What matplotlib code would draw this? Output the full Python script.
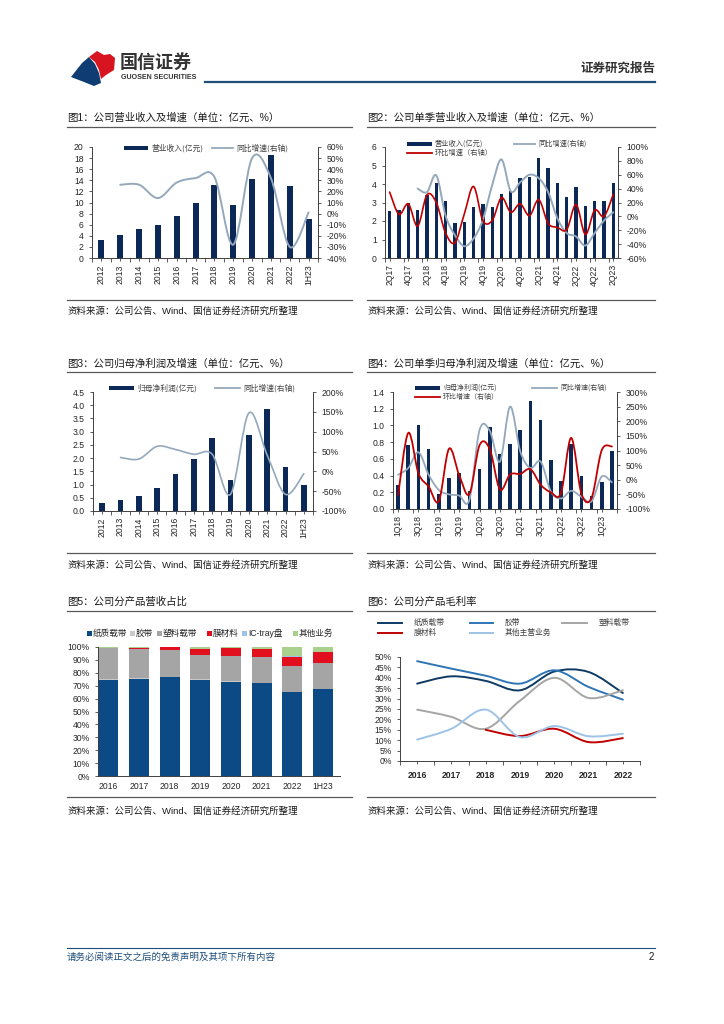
import numpy as np
import matplotlib.pyplot as plt
from matplotlib.path import Path
from matplotlib.patches import PathPatch, Polygon, Rectangle
from matplotlib.ticker import FuncFormatter

plt.rcParams['font.family'] = ['Liberation Sans', 'Noto Sans CJK SC', 'DejaVu Sans']
plt.rcParams['axes.unicode_minus'] = False

# 图1 年度营收
years1 = ['2012', '2013', '2014', '2015', '2016', '2017', '2018', '2019', '2020', '2021', '2022', '1H23']
rev1 = [3.2, 4.1, 5.2, 5.9, 7.5, 10.0, 13.1, 9.5, 14.2, 18.6, 13.0, 7.1]
rev1_yoy = [np.nan, 26, 26, 14, 28, 32, 33, -28, 50, 32, -30, 1]

# 图2 单季营收
q2 = ['2Q17', '3Q17', '4Q17', '1Q18', '2Q18', '3Q18', '4Q18', '1Q19', '2Q19', '3Q19', '4Q19',
      '1Q20', '2Q20', '3Q20', '4Q20', '1Q21', '2Q21', '3Q21', '4Q21', '1Q22', '2Q22', '3Q22',
      '4Q22', '1Q23', '2Q23']
rev2 = [2.52, 2.58, 2.99, 2.58, 3.39, 4.04, 3.08, 1.89, 1.95, 2.76, 2.9, 2.76, 3.48, 3.62,
        4.3, 4.36, 5.4, 4.86, 4.04, 3.28, 3.84, 2.83, 3.08, 3.08, 4.07]
rev2_yoy = [np.nan, np.nan, np.nan, 40, 35, 59, 1, -27, -43, -32, -5, 45, 82, 36, 49, 60, 55,
            35, -3, -24, -29, -42, -24, -6, 6]
rev2_qoq = [35, 3, 18, -14, 31, 20, -24, -38, 3, 43, -6, -6, 27, 6, 18, 1, 24, -10, -16, -19,
            17, -26, 9, 0, 32]

# 图3 年度归母净利润
years3 = years1
np3 = [0.3, 0.42, 0.57, 0.88, 1.4, 1.97, 2.75, 1.17, 2.88, 3.87, 1.66, 1.0]
np3_yoy = [np.nan, 35, 31, 63, 55, 43, 43, -58, 147, 41, -58, -6]

# 图4 单季归母净利润
q4 = ['1Q18', '2Q18', '3Q18', '4Q18', '1Q19', '2Q19', '3Q19', '4Q19', '1Q20', '2Q20', '3Q20',
      '4Q20', '1Q21', '2Q21', '3Q21', '4Q21', '1Q22', '2Q22', '3Q22', '4Q22', '1Q23', '2Q23']
np4 = [0.29, 0.76, 1.0, 0.72, 0.18, 0.37, 0.43, 0.22, 0.48, 0.98, 0.66, 0.78, 0.94, 1.29,
       1.07, 0.59, 0.33, 0.78, 0.40, 0.15, 0.32, 0.69]
np4_qoq = [-52, 160, 22, -23, -73, 106, 16, -49, 118, 105, -33, 18, 20, 36, -17, -43, -45,
           143, -47, -62, 101, 114]
np4_yoy = [17, 40, 94, 17, -35, -50, -54, -69, 170, 168, 62, 250, 97, 40, 62, -40, -64, -38,
           -58, -74, 11, -9]

# 图5 分产品营收占比
years5 = ['2016', '2017', '2018', '2019', '2020', '2021', '2022', '1H23']
seg_names = ['纸质载带', '胶带', '塑料载带', '膜材料', 'IC-tray盘', '其他业务']
zhi = [74.6, 75.4, 76.4, 74.6, 73.0, 71.8, 64.8, 67.4]
jiao = [0.4, 0.4, 0.4, 0.4, 0.4, 0.4, 0.4, 0.4]
suliao = [24.2, 22.9, 21.1, 19.0, 19.9, 20.0, 20.2, 19.7]
mo = [0.0, 0.6, 2.1, 4.4, 5.9, 6.2, 7.0, 8.3]
ic = [0, 0, 0, 0, 0, 0, 0.8, 0.7]
qita = [0.8, 0.7, 0.0, 1.6, 0.8, 1.6, 6.8, 3.5]

# 图6 分产品毛利率
years6 = ['2016', '2017', '2018', '2019', '2020', '2021', '2022']
gm_zhi = [37.2, 40.7, 38.5, 34.0, 43.0, 42.8, 32.7]
gm_jiao = [48.0, 44.4, 41.0, 37.2, 43.6, 35.6, 29.5]
gm_suliao = [24.7, 21.2, 15.5, 29.0, 40.0, 30.3, 34.0]
gm_mo = [np.nan, np.nan, 15.0, 12.0, 15.5, 9.1, 11.0]
gm_qita = [10.3, 15.5, 24.7, 11.5, 16.8, 11.9, 13.1]

NAVY = '#0b2856'
GRAYB = '#94a8bc'
RED = '#c00000'
TXT = '#262626'


def smooth(ax, x, y, **kw):
    # 平滑曲线（类似Excel的平滑线）
    x = np.asarray(x, float)
    y = np.asarray(y, float)
    ok = ~np.isnan(y)
    x, y = x[ok], y[ok]
    n = len(x)
    verts = [(x[0], y[0])]
    codes = [Path.MOVETO]
    for i in range(n - 1):
        x0, y0 = (x[i - 1], y[i - 1]) if i > 0 else (x[i], y[i])
        x3, y3 = (x[i + 2], y[i + 2]) if i + 2 < n else (x[i + 1], y[i + 1])
        c1 = (x[i] + (x[i + 1] - x0) / 6, y[i] + (y[i + 1] - y0) / 6)
        c2 = (x[i + 1] - (x3 - x[i]) / 6, y[i + 1] - (y3 - y[i]) / 6)
        verts += [c1, c2, (x[i + 1], y[i + 1])]
        codes += [Path.CURVE4] * 3
    ax.add_patch(PathPatch(Path(verts, codes), fill=False, capstyle='round', **kw))


def box(l, t, r, b):
    return [l / 724, 1 - b / 1024, (r - l) / 724, (b - t) / 1024]


def style(ax, ax2=None):
    ax.set_facecolor('none')
    for s in ['top', 'right']:
        ax.spines[s].set_visible(False)
    for s in ['left', 'bottom']:
        ax.spines[s].set_color('#404040')
        ax.spines[s].set_linewidth(0.7)
    ax.tick_params(labelsize=6.2, colors='#404040', labelcolor=TXT, length=2.5, width=0.6)
    if ax2 is not None:
        for s in ['top', 'left', 'bottom']:
            ax2.spines[s].set_visible(False)
        ax2.spines['right'].set_color('#404040')
        ax2.spines['right'].set_linewidth(0.7)
        ax2.tick_params(labelsize=6.2, colors='#404040', labelcolor=TXT, length=2.5, width=0.6)
        ax2.yaxis.set_major_formatter(FuncFormatter(lambda v, p: '%d%%' % v))


def cat_axis(ax, labels, step=1, rot=90):
    n = len(labels)
    ax.set_xlim(-0.5, n - 0.5)
    ax.set_xticks(range(0, n, step))
    ax.set_xticklabels(labels[::step], rotation=rot)
    ax.tick_params(axis='x', which='major', length=0, pad=2)
    ax.set_xticks(np.arange(-0.5, n, step), minor=True)
    ax.tick_params(axis='x', which='minor', length=3, width=0.6, colors='#404040')


fig = plt.figure(figsize=(7.24, 10.24), dpi=100)
ov = fig.add_axes([0, 0, 1, 1])
ov.set_xlim(0, 724)
ov.set_ylim(1024, 0)
ov.axis('off')

# 页眉
ov.add_patch(Polygon([(71, 77), (82, 63), (89, 57), (95, 64), (99, 73), (101, 83), (94, 86), (84, 82)],
                     closed=True, color='#0f3d73', lw=0))
ov.add_patch(Polygon([(89, 57), (97, 51), (104, 55), (110, 54), (115, 58), (114, 70), (106, 75), (101, 79),
                      (99, 70), (95, 62)], closed=True, color='#d7141f', lw=0))
ov.text(120, 63, '国信证券', fontsize=13, fontweight='bold', color='#333333', va='center')
ov.text(121, 77.5, 'GUOSEN SECURITIES', fontsize=5.1, fontweight='bold', color='#333333', va='center')
ov.text(655, 69, '证券研究报告', fontsize=9, fontweight='bold', color='#333333', va='center', ha='right')
ov.plot([205, 655], [82, 82], color='#1f4e79', lw=1.6)

# 标题与来源
titles = [
    (67, 118, 352, 127, 300, 311, '图1：公司营业收入及增速（单位：亿元、%）'),
    (367, 118, 655, 127, 300, 311, '图2：公司单季营业收入及增速（单位：亿元、%）'),
    (67, 364, 352, 372, 553, 565, '图3：公司归母净利润及增速（单位：亿元、%）'),
    (367, 364, 655, 372, 553, 565, '图4：公司单季归母净利润及增速（单位：亿元、%）'),
    (67, 602, 352, 611, 797, 811, '图5：公司分产品营收占比'),
    (367, 602, 655, 611, 797, 811, '图6：公司分产品毛利率'),
]
for x0, ty, x1, ly, by, sy, t in titles:
    ov.text(x0, ty, t, fontsize=7.5, color='#1a1a1a', va='center')
    ov.plot([x0, x1], [ly, ly], color='#595959', lw=0.9)
    ov.plot([x0, x1], [by, by], color='#595959', lw=0.9)
    ov.text(x0, sy, '资料来源：公司公告、Wind、国信证券经济研究所整理', fontsize=6.8, color='#1a1a1a', va='center')

# 页脚
ov.plot([67, 655], [948, 948], color='#1f4e79', lw=0.8)
ov.text(67, 957, '请务必阅读正文之后的免责声明及其项下所有内容', fontsize=6.8, color='#1f4e79', va='center',
        style='italic')
ov.text(654, 957, '2', fontsize=7, color='#1a1a1a', va='center', ha='right')


def leg_bar(x0, x1, y, text, color=NAVY, h=4.5, fs=5.6):
    ov.add_patch(Rectangle((x0, y - h / 2), x1 - x0, h, color=color, lw=0))
    ov.text(x1 + 3, y, text, fontsize=fs, color='#404040', va='center', family=['Noto Sans CJK SC'])


def leg_line(x0, x1, y, text, color, lw=1.3, fs=5.6):
    ov.plot([x0, x1], [y, y], color=color, lw=lw)
    ov.text(x1 + 3, y, text, fontsize=fs, color='#404040', va='center', family=['Noto Sans CJK SC'])


# 图1
ax = fig.add_axes(box(92, 147, 318, 258))
ax2 = ax.twinx()
x = np.arange(len(years1))
ax.bar(x, rev1, width=0.32, color=NAVY, zorder=2)
ax.set_ylim(0, 20)
ax.set_yticks(range(0, 21, 2))
cat_axis(ax, years1)
ax2.set_ylim(-40, 60)
ax2.set_yticks(range(-40, 61, 10))
smooth(ax2, x, rev1_yoy, color=GRAYB, lw=1.4)
style(ax, ax2)
leg_bar(124, 148, 148, '营业收入(亿元)')
leg_line(212, 233, 148, '同比增速(右轴)', GRAYB)

# 图2
ax = fig.add_axes(box(385, 147, 618, 258))
ax2 = ax.twinx()
x = np.arange(len(q2))
ax.bar(x, rev2, width=0.36, color=NAVY, zorder=2)
ax.set_ylim(0, 6)
ax.set_yticks(range(0, 7))
cat_axis(ax, q2, step=2)
ax2.set_ylim(-60, 100)
ax2.set_yticks(range(-60, 101, 20))
smooth(ax2, x, rev2_yoy, color=GRAYB, lw=1.4)
smooth(ax2, x, rev2_qoq, color=RED, lw=1.2)
style(ax, ax2)
leg_bar(407, 432, 144, '营业收入(亿元)', fs=5.2)
leg_line(514, 535, 144, '同比增速(右轴)', GRAYB, fs=5.2)
leg_line(407, 432, 153, '环比增速（右轴）', RED, fs=5.2)

# 图3
ax = fig.add_axes(box(93, 392, 313, 511))
ax2 = ax.twinx()
x = np.arange(len(years3))
ax.bar(x, np3, width=0.32, color=NAVY, zorder=2)
ax.set_ylim(0, 4.5)
ax.set_yticks(np.arange(0, 4.51, 0.5))
ax.yaxis.set_major_formatter(FuncFormatter(lambda v, p: '%.1f' % v))
cat_axis(ax, years3)
ax2.set_ylim(-100, 200)
ax2.set_yticks(range(-100, 201, 50))
smooth(ax2, x, np3_yoy, color=GRAYB, lw=1.2)
style(ax, ax2)
leg_bar(109, 134, 388, '归母净利润(亿元)')
leg_line(215, 240, 388, '同比增速(右轴)', GRAYB)

# 图4
ax = fig.add_axes(box(393, 392, 617, 509))
ax2 = ax.twinx()
x = np.arange(len(q4))
ax.bar(x, np4, width=0.36, color=NAVY, zorder=2)
ax.set_ylim(0, 1.4)
ax.set_yticks(np.arange(0, 1.41, 0.2))
ax.yaxis.set_major_formatter(FuncFormatter(lambda v, p: '%.1f' % v))
cat_axis(ax, q4, step=2)
ax2.set_ylim(-100, 300)
ax2.set_yticks(range(-100, 301, 50))
smooth(ax2, x, np4_yoy, color=GRAYB, lw=1.3)
smooth(ax2, x, np4_qoq, color=RED, lw=1.3)
style(ax, ax2)
leg_bar(415, 440, 388, '归母净利润(亿元)', fs=5.0)
leg_line(532, 557, 388, '同比增速(右轴)', GRAYB, fs=5.0)
leg_line(415, 440, 397, '环比增速（右轴）', RED, fs=5.0)

# 图5
ax = fig.add_axes(box(98, 647, 340, 776))
x = np.arange(len(years5))
seg_colors = ['#0b4a84', '#c8c8c8', '#a5a5a5', '#e2101e', '#9dc3e6', '#a9d18e']
bottom = np.zeros(len(years5))
for vals, c in zip([zhi, jiao, suliao, mo, ic, qita], seg_colors):
    ax.bar(x, vals, bottom=bottom, width=0.65, color=c, zorder=2)
    bottom += np.array(vals)
ax.set_xlim(-0.33, 7.55)
ax.set_ylim(0, 100)
ax.set_yticks(range(0, 101, 10))
ax.yaxis.set_major_formatter(FuncFormatter(lambda v, p: '%d%%' % v))
ax.set_xticks(x)
ax.set_xticklabels(years5)
style(ax)
ax.tick_params(axis='x', length=0, pad=4)
leg_pos = [(87, 93), (130, 136), (157, 163), (207, 213), (242, 248), (293, 299)]
for (sx, tx), name, c in zip(leg_pos, seg_names, seg_colors):
    ov.add_patch(Rectangle((sx, 630.5), 5, 5, color=c, lw=0))
    ov.text(tx, 633, name, fontsize=6.2, color='#262626', va='center')

# 图6
ax = fig.add_axes(box(400, 657, 640, 761))
x = np.arange(len(years6))
gm_colors = ['#0e3a66', '#2f75b5', '#a5a5a5', '#c00000', '#9dc3e6']
gm_names = ['纸质载带', '胶带', '塑料载带', '膜材料', '其他主营业务']
for vals, c in zip([gm_zhi, gm_jiao, gm_suliao, gm_mo, gm_qita], gm_colors):
    smooth(ax, x, vals, color=c, lw=1.4)
ax.set_ylim(0, 50)
ax.set_yticks(range(0, 51, 5))
ax.yaxis.set_major_formatter(FuncFormatter(lambda v, p: '%d%%' % v))
cat_axis(ax, years6, rot=0)
style(ax)
ax.tick_params(axis='x', which='major', pad=5)
for lab in ax.get_xticklabels():
    lab.set_fontweight('bold')
leg6 = [(378, 402, 623), (470, 493, 623), (562, 587, 623), (378, 402, 633), (470, 493, 633)]
for (x0, x1, y), name, c in zip(leg6, gm_names, gm_colors):
    ov.plot([x0, x1], [y, y], color=c, lw=1.4)
    ov.text(x1 + 12, y, name, fontsize=5.6, color='#404040', va='center', family=['Noto Sans CJK SC'])

fig.savefig('out.png', dpi=100)
